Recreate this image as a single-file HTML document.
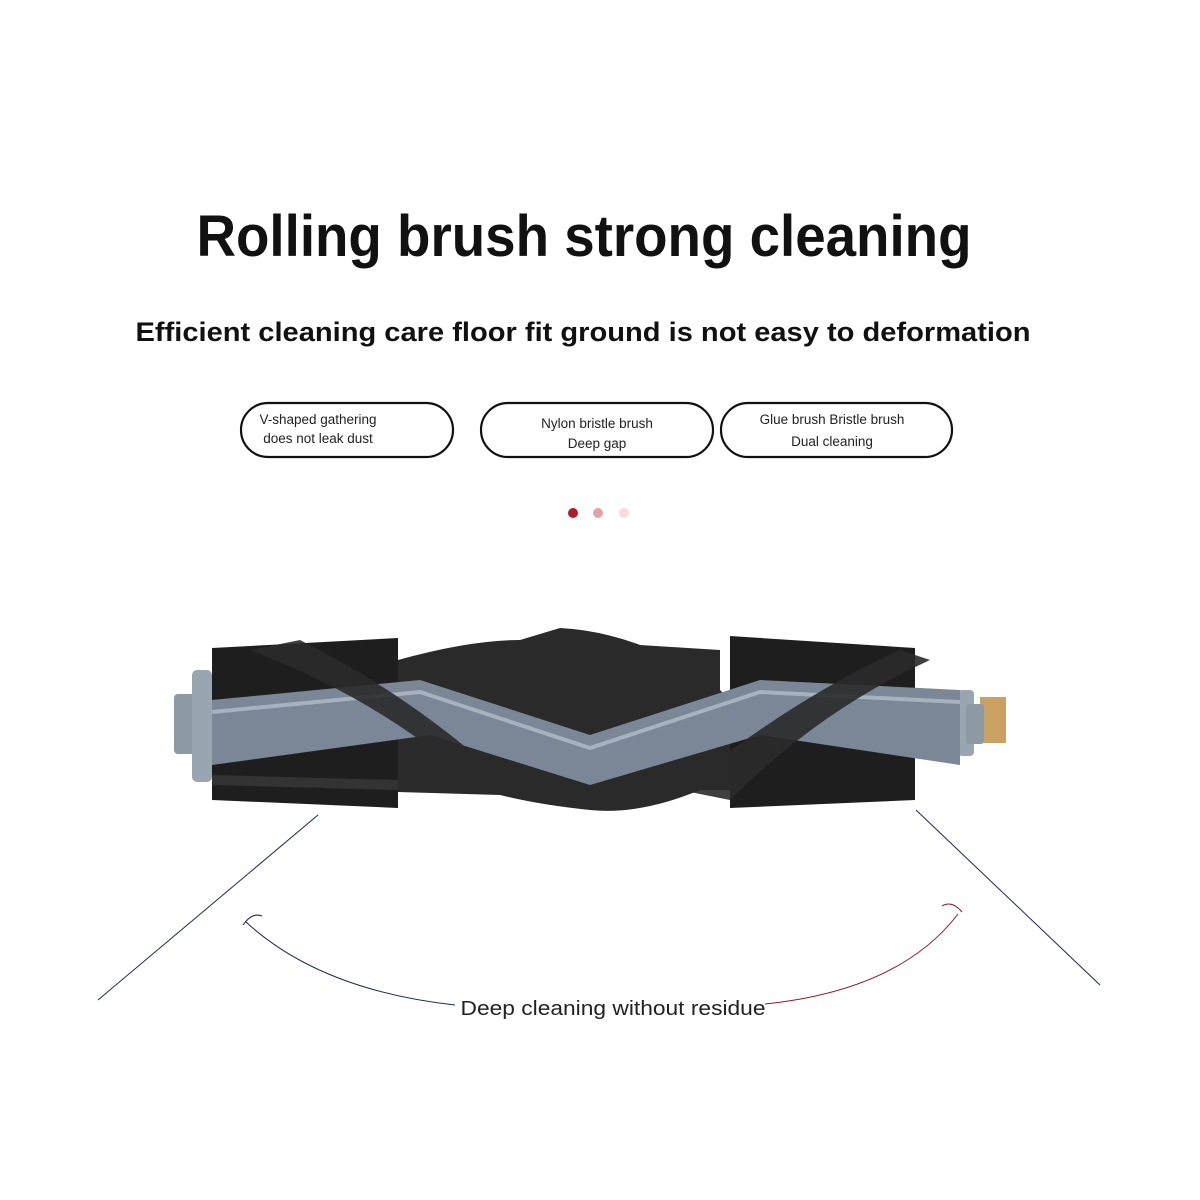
<!DOCTYPE html>
<html><head><meta charset="utf-8"><style>
html,body{margin:0;padding:0;background:#fff;}
svg{display:block}
</style></head><body>
<svg width="1200" height="1200" viewBox="0 0 1200 1200" xmlns="http://www.w3.org/2000/svg">
<rect width="1200" height="1200" fill="#fff"/>
<text x="584" y="256" text-anchor="middle" font-family="Liberation Sans, sans-serif" font-weight="bold" font-size="58" fill="#111" textLength="775" lengthAdjust="spacingAndGlyphs">Rolling brush strong cleaning</text>
<text x="583" y="341" text-anchor="middle" font-family="Liberation Sans, sans-serif" font-weight="bold" font-size="27" fill="#111" textLength="895" lengthAdjust="spacingAndGlyphs">Efficient cleaning care floor fit ground is not easy to deformation</text>
<g fill="#fff" stroke="#111" stroke-width="2.2">
<rect x="241" y="403" width="212" height="54" rx="27"/>
<rect x="481" y="403" width="232" height="54" rx="27"/>
<rect x="721" y="403" width="231" height="54" rx="27"/>
</g>
<g font-family="Liberation Sans, sans-serif" font-size="13.5" fill="#222" text-anchor="middle">
<text x="318" y="424">V-shaped gathering</text>
<text x="318" y="443">does not leak dust</text>
<text x="597" y="428">Nylon bristle brush</text>
<text x="597" y="448">Deep gap</text>
<text x="832" y="424">Glue brush Bristle brush</text>
<text x="832" y="446">Dual cleaning</text>
</g>
<circle cx="573" cy="513" r="5" fill="#b01c2a"/>
<circle cx="598" cy="513" r="5" fill="#e2a3a8"/>
<circle cx="624" cy="513" r="5" fill="#f6dcdc"/>
<!-- brush -->
<rect x="980" y="697" width="26" height="46" fill="#c9a162"/>
<rect x="174" y="694" width="22" height="60" rx="4" fill="#8e99a6"/>
<rect x="192" y="670" width="20" height="112" rx="5" fill="#9aa5b2"/>
<rect x="958" y="690" width="16" height="66" rx="4" fill="#9aa5b2"/>
<rect x="966" y="704" width="18" height="40" rx="3" fill="#8e99a6"/>
<path d="M212 648 L398 638 L398 808 L212 800 Z" fill="#1e1e1e"/>
<path d="M730 636 L915 648 L915 800 L730 808 Z" fill="#1e1e1e"/>
<path d="M398 660 Q470 640 520 640 L560 628 Q600 630 640 645 L720 650 L720 690 L730 700 L730 790 L700 790 Q640 815 590 810 Q540 805 500 795 L398 792 Z" fill="#2a2a2a"/>
<path d="M212 700 L420 680 L590 735 L760 680 L960 690 L960 765 L760 735 L590 785 L430 735 L212 765 Z" fill="#7b8796"/>
<path d="M212 712 L420 692 L590 748 L760 692 L960 702" stroke="#a7b2be" stroke-width="4" fill="none"/>
<path d="M250 650 Q380 700 470 780 L520 795 Q420 700 300 640 Z" fill="#2a2a2a" opacity="0.9"/>
<path d="M680 790 Q790 700 900 650 L930 660 Q820 710 730 800 Z" fill="#2a2a2a" opacity="0.9"/>
<path d="M212 775 L398 780 L398 790 L212 785 Z" fill="#333"/>
<!-- lines -->
<g fill="none" stroke-width="1">
<line x1="318" y1="815" x2="98" y2="1000" stroke="#1a2a55"/>
<line x1="916" y1="810" x2="1100" y2="985" stroke="#1a2a55"/>
<path d="M246 922 Q320 990 455 1005" stroke="#1a2a55"/>
<path d="M765 1004 Q900 990 958 914" stroke="#8b1a24"/>
<path d="M243 925 Q252 912 262 916" stroke="#1a2a55"/>
<path d="M962 912 Q952 900 942 906" stroke="#8b1a24"/>
</g>
<text x="613" y="1015" text-anchor="middle" font-family="Liberation Sans, sans-serif" font-size="20" fill="#222" textLength="305" lengthAdjust="spacingAndGlyphs">Deep cleaning without residue</text>
</svg>
</body></html>
